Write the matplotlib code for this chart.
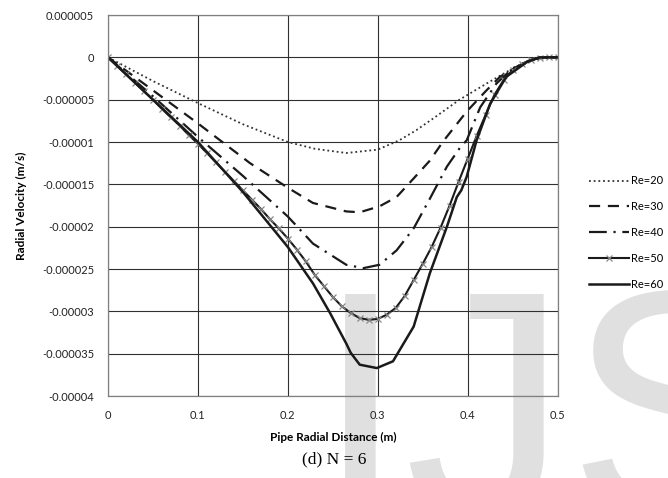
import matplotlib
matplotlib.use("Agg")
import matplotlib.pyplot as plt

# radial distance (m) and radial velocity (values in 1e-6 m/s)
r20 = [0, 0.05, 0.1, 0.15, 0.2, 0.23, 0.265, 0.3, 0.324, 0.343, 0.362, 0.391, 0.421, 0.447, 0.473, 0.49, 0.5]
v20 = [0, -2.8, -5.4, -7.9, -10.0, -10.8, -11.3, -10.9, -9.8, -8.6, -7.2, -5.0, -3.1, -1.5, -0.35, 0, 0]

r30 = [0, 0.05, 0.1, 0.158, 0.2, 0.228, 0.265, 0.28, 0.302, 0.321, 0.34, 0.358, 0.373, 0.399, 0.421, 0.436, 0.458, 0.475, 0.49, 0.5]
v30 = [0, -3.9, -7.8, -12.5, -15.4, -17.2, -18.2, -18.3, -17.6, -16.5, -14.3, -12.2, -9.9, -6.4, -3.9, -2.3, -0.9, -0.2, 0, 0]

r40 = [0, 0.05, 0.1, 0.15, 0.2, 0.228, 0.265, 0.284, 0.302, 0.321, 0.34, 0.358, 0.377, 0.392, 0.399, 0.414, 0.432, 0.45, 0.47, 0.48, 0.5]
v40 = [0, -4.6, -9.4, -14.0, -18.8, -22.0, -24.5, -24.9, -24.5, -22.8, -20.2, -16.7, -12.9, -10.6, -9.8, -5.9, -3.1, -1.3, -0.3, 0, 0]

r50 = [0.00, 0.01, 0.02, 0.03, 0.04, 0.05, 0.06, 0.07, 0.08, 0.09,
       0.10, 0.11, 0.12, 0.13, 0.14, 0.15, 0.16, 0.17, 0.18, 0.19,
       0.20, 0.21, 0.22, 0.23, 0.24, 0.25, 0.26, 0.27, 0.28, 0.29,
       0.30, 0.31, 0.32, 0.33, 0.34, 0.35, 0.36, 0.37, 0.38, 0.39,
       0.40, 0.41, 0.42, 0.43, 0.44, 0.45, 0.46, 0.47, 0.48, 0.49, 0.50]
v50 = [0, -1.0, -2.0, -3.0, -4.0, -5.0, -6.1, -7.1, -8.1, -9.2,
       -10.2, -11.3, -12.4, -13.5, -14.6, -15.7, -16.8, -17.9, -19.1, -20.2,
       -21.4, -22.7, -24.1, -25.7, -27.0, -28.3, -29.4, -30.2, -30.8, -31.0,
       -30.9, -30.4, -29.6, -28.2, -26.3, -24.4, -22.4, -20.1, -17.5, -14.7,
       -12.0, -9.3, -6.8, -4.4, -2.7, -1.5, -0.8, -0.35, -0.05, 0, 0]

r60 = [0, 0.05, 0.1, 0.15, 0.2, 0.228, 0.247, 0.265, 0.27, 0.28, 0.299, 0.317, 0.34, 0.358, 0.377, 0.388, 0.393, 0.399, 0.41, 0.425, 0.443, 0.466, 0.48, 0.5]
v60 = [0, -5.0, -10.0, -15.9, -22.4, -26.7, -30.2, -33.8, -34.9, -36.3, -36.7, -35.9, -31.8, -25.5, -20.0, -16.5, -15.7, -14.1, -9.8, -5.5, -2.3, -0.55, 0, 0]

x_ticks = [0, 0.1, 0.2, 0.3, 0.4, 0.5]
x_tick_labels = ["0", "0.1", "0.2", "0.3", "0.4", "0.5"]
y_ticks = [5e-6, 0, -5e-6, -1e-5, -1.5e-5, -2e-5, -2.5e-5, -3e-5, -3.5e-5, -4e-5]
y_tick_labels = ["0.000005", "0", "-0.000005", "-0.00001", "-0.000015", "-0.00002",
                 "-0.000025", "-0.00003", "-0.000035", "-0.00004"]


def scale(vals):
    return [v * 1e-6 for v in vals]


plt.rcParams['font.family'] = ['Lato', 'DejaVu Sans']

fig = plt.figure(figsize=(6.68, 4.78), dpi=100)

# faint watermark behind the chart
fig.text(315 / 668, 1 - 282 / 478, "IJS", fontsize=235, color="#e0e0e0",
         family="Liberation Sans", ha="left", va="top", zorder=-5)

ax = fig.add_axes([108 / 668, 1 - 396 / 478, 449.5 / 668, 381 / 478])
ax.set_facecolor("none")

ax.plot(r20, scale(v20), color="#333333", lw=1.3, linestyle=(0, (1, 1.6)), label="Re=20")
ax.plot(r30, scale(v30), color="#1a1a1a", lw=1.6, linestyle=(0, (5, 3.5)), label="Re=30")
ax.plot(r40, scale(v40), color="#1a1a1a", lw=1.6, linestyle=(0, (8, 3, 1, 3)), label="Re=40")
ax.plot(r50, scale(v50), color="#1a1a1a", lw=1.5, marker="x", markersize=4.5,
        markeredgecolor="#888888", markeredgewidth=0.9, label="Re=50")
ax.plot(r60, scale(v60), color="#1a1a1a", lw=1.8, label="Re=60")

ax.set_xlim(0, 0.5)
ax.set_ylim(-4e-5, 5e-6)
ax.set_xticks(x_ticks)
ax.set_xticklabels(x_tick_labels)
ax.set_yticks(y_ticks)
ax.set_yticklabels(y_tick_labels)
ax.tick_params(length=0, labelsize=8, colors="#222222")
ax.tick_params(axis="y", pad=10)
ax.tick_params(axis="x", pad=10)
ax.grid(True, color="#303030", lw=0.8)
ax.set_axisbelow(True)
for s in ax.spines.values():
    s.set_color("#808080")
    s.set_linewidth(0.9)

ax.set_xlabel("Pipe Radial Distance (m)", fontsize=8.5, fontweight="bold", labelpad=8)
ax.set_ylabel("Radial Velocity (m/s)", fontsize=8.5, fontweight="bold", labelpad=11)

ax.legend(loc="upper left", bbox_to_anchor=(585 / 668, 1 - 171 / 478),
          bbox_transform=fig.transFigure, frameon=False, fontsize=8,
          handlelength=3.6, handletextpad=0.15, labelspacing=1.33, borderaxespad=0)

fig.text(0.5, 1 - 459 / 478, "(d) N = 6", fontsize=12.5, family="Liberation Serif",
         ha="center", va="center")

fig.savefig("out.png", dpi=100)
